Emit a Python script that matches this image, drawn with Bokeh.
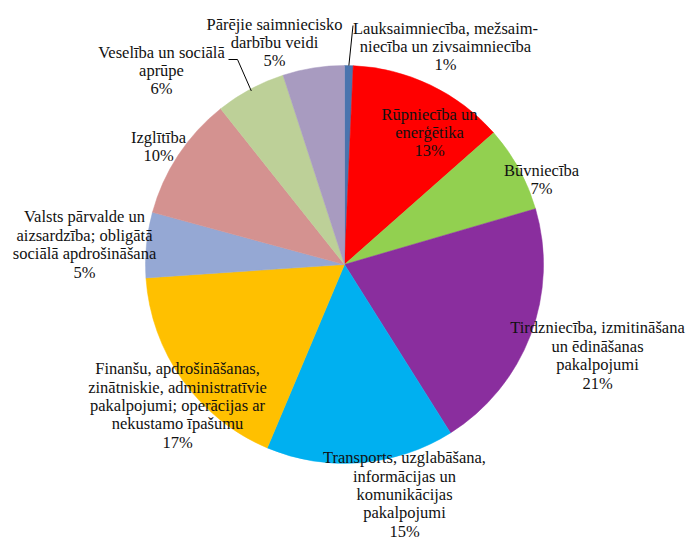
import numpy as np
from bokeh.plotting import figure
from bokeh.models import Range1d, ColumnDataSource
from bokeh.core.properties import value
from bokeh.embed import file_html
from bokeh.resources import INLINE

# ---- data ----
categories = [
    "Lauksaimniecība, mežsaim-\nniecība un zivsaimniecība",
    "Rūpniecība un\nenerģētika",
    "Būvniecība",
    "Tirdzniecība, izmitināšana\nun ēdināšanas\npakalpojumi",
    "Transports, uzglabāšana,\ninformācijas un\nkomunikācijas\npakalpojumi",
    "Finanšu, apdrošināšanas,\nzinātniskie, administratīvie\npakalpojumi; operācijas ar\nnekustamo īpašumu",
    "Valsts pārvalde un\naizsardzība; obligātā\nsociālā apdrošināšana",
    "Izglītība",
    "Veselība un sociālā\naprūpe",
    "Pārējie saimniecisko\ndarbību veidi",
]
shares = [0.7, 12.8, 7.0, 20.6, 15.3, 17.6, 5.3, 10.1, 5.7, 5.0]
pct_labels = ["1%", "13%", "7%", "21%", "15%", "17%", "5%", "10%", "6%", "5%"]

# ---- styles / layout ----
colors = ["#4A74AE", "#FF0000", "#92D050", "#8A2E9E", "#00B0F0",
          "#FFC000", "#95A8D4", "#D49290", "#BDD098", "#A89BC0"]
W, H = 686, 541
def dx(px): return px
def dy(py): return H - py

cx, cy, R = dx(344), dy(264), 199
# label block centres (image pixels)
label_pos = [(445, 46), (429, 132), (541, 179), (597, 355), (404, 494),
             (177, 405), (84, 244), (158, 146), (161, 70), (274, 42)]
LINE_SP = 18.4

p = figure(width=W, height=H, output_backend="svg", toolbar_location=None,
           x_range=Range1d(0, W), y_range=Range1d(0, H), min_border=0)
p.axis.visible = False
p.grid.visible = False
p.outline_line_color = None
p.background_fill_color = "white"

vals = np.array(shares, dtype=float)
frac = vals / vals.sum()
cum_end = np.cumsum(frac)
cum_start = cum_end - frac
start = np.pi / 2 - 2 * np.pi * cum_start
end = np.pi / 2 - 2 * np.pi * cum_end

src = ColumnDataSource(dict(start=start, end=end, color=colors))
p.wedge(x=cx, y=cy, radius=R, start_angle="start", end_angle="end",
        direction="clock", fill_color="color", line_color="color",
        line_width=0.5, source=src)

# leader lines for the first and ninth slices
mid = np.pi / 2 - 2 * np.pi * (cum_start + frac / 2)
ex0, ey0 = cx + R * np.cos(mid[0]), cy + R * np.sin(mid[0])
p.line([ex0, dx(352.5)], [ey0, dy(25)], line_color="black", line_width=1)
ex8, ey8 = cx + 0.99 * R * np.cos(mid[8]), cy + 0.99 * R * np.sin(mid[8])
p.line([dx(228), dx(237), ex8], [dy(59), dy(59), ey8], line_color="black", line_width=1)

# one text item per label line
xs, ys, ts = [], [], []
for cat, pc, (lx, ly) in zip(categories, pct_labels, label_pos):
    lines = cat.split("\n") + [pc]
    n = len(lines)
    for i, ln in enumerate(lines):
        xs.append(dx(lx))
        ys.append(dy(ly + (i - (n - 1) / 2) * LINE_SP))
        ts.append(ln)
tsrc = ColumnDataSource(dict(x=xs, y=ys, t=ts))
p.text(x="x", y="y", text="t", source=tsrc, text_align="center",
       text_baseline="middle", text_font=value("serif"),
       text_font_size="16.5px", text_color="#111111")

open("out.html", "w").write(file_html(p, INLINE))
